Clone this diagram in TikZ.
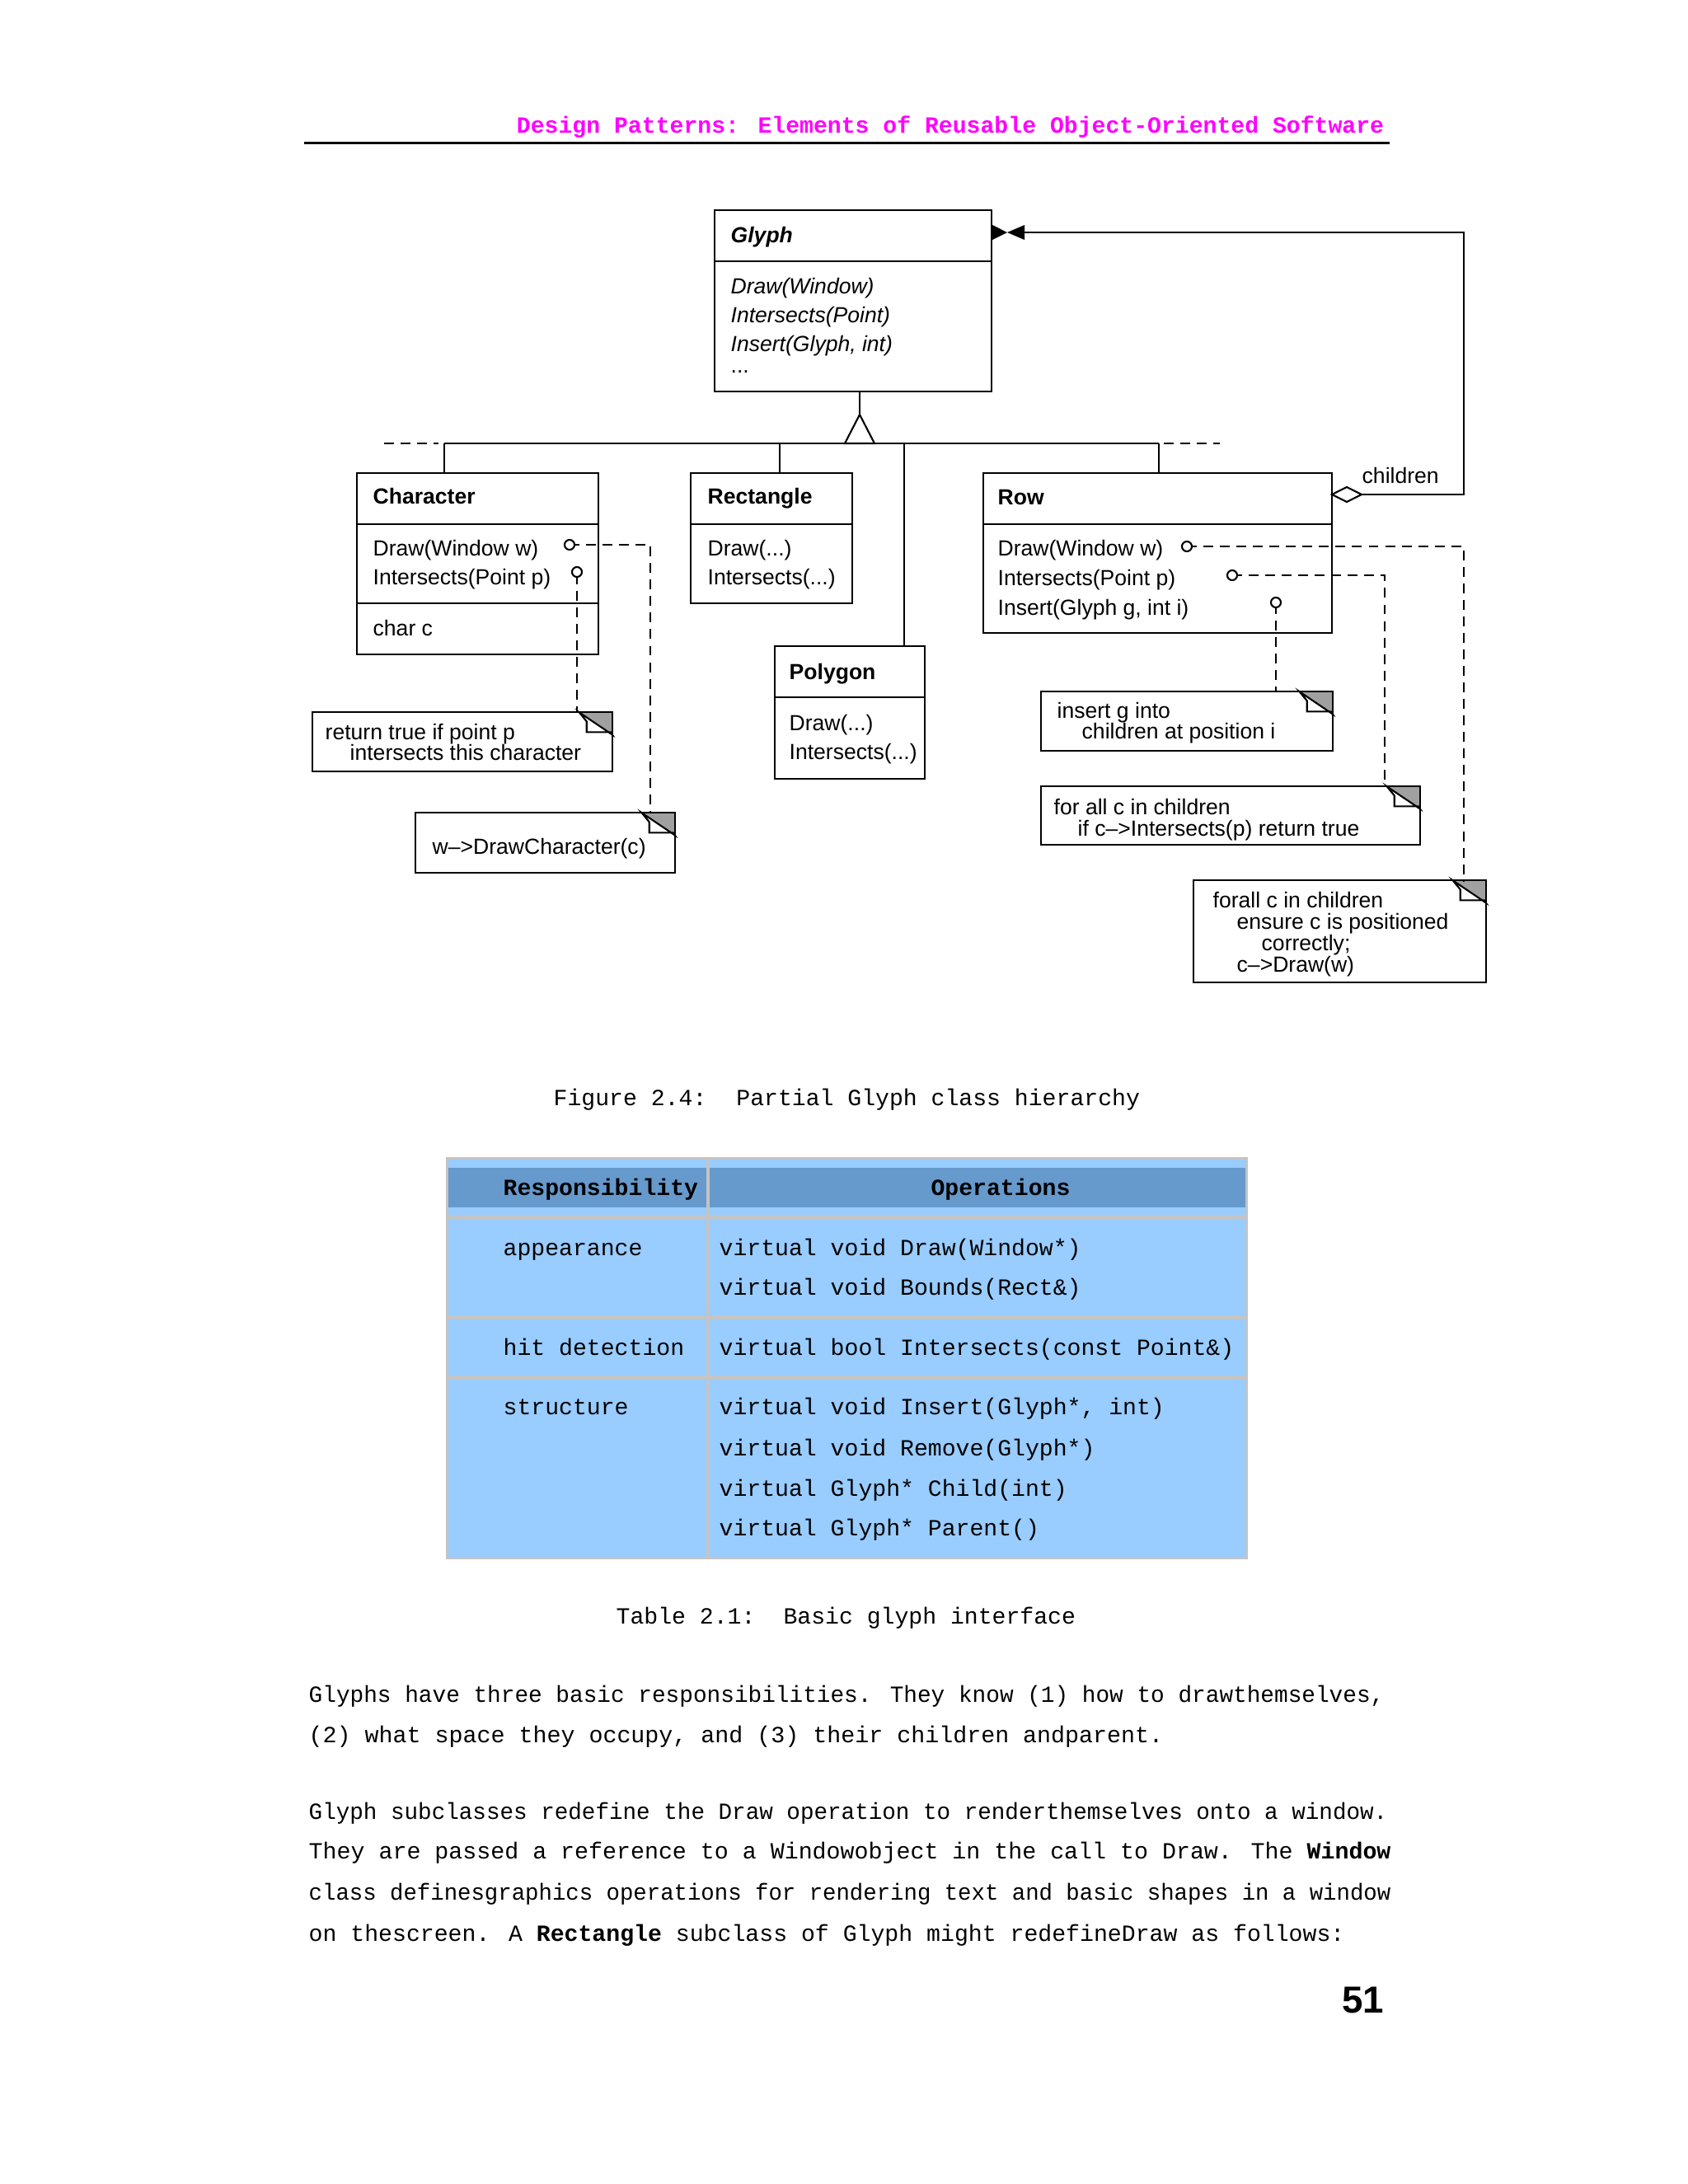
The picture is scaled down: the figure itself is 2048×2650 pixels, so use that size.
\documentclass[tikz,border=0pt]{standalone}
\usepackage{fontspec}
\usepackage{graphicx}
\setmainfont{Liberation Sans}
\newfontfamily\monofam{Liberation Mono}
\usetikzlibrary{calc,fit}
\definecolor{hdrmag}{HTML}{FF00FF}
\definecolor{tdark}{HTML}{6699CC}
\definecolor{tlight}{HTML}{99CCFF}
\definecolor{tborder}{HTML}{C4C4C4}
\definecolor{foldgray}{HTML}{A0A0A0}
\newcommand\dfont{\fontsize{7.55}{9}\selectfont}
\newcommand\mfont{\monofam\fontsize{8}{10}\selectfont}
\newcommand\umlnote[3]{%
  \node[inner sep=0, fit={#2 #3}] (#1) {};
  \fill[white] (#1.south west) rectangle (#1.north east);
  \fill[foldgray] ($(#1.north east)+(-40,0)$) -- (#1.north east) -- ($(#1.north east)+(0,27)$) -- cycle;
  \draw[thinline, fill=white] ($(#1.north east)+(-40,0)$) -- ($(#1.north east)+(-31,11)$) -- ($(#1.north east)+(-31,24)$) -- ($(#1.north east)+(-2,24)$) -- ($(#1.north east)+(0,27)$) -- cycle;
  \draw[thinline] (#1.south west) rectangle (#1.north east);
}
\tikzset{
  thinline/.style={line width=0.6pt},
  classbox/.style={draw, line width=0.6pt, inner sep=0, fill=white},
  dtext/.style={anchor=base west, inner sep=0, font=\dfont},
  mtext/.style={anchor=base west, inner sep=0, font=\mfont},
  lolli/.style={circle, draw, line width=0.6pt, fill=white, inner sep=0, minimum size=0.12cm},
  depline/.style={line width=0.6pt, dash pattern=on 3.4pt off 2.3pt},
}
\begin{document}
\begin{tikzpicture}[x=0.01cm,y=-0.01cm]
\useasboundingbox (0,0) rectangle (2048,2650);
\fill[white] (0,0) rectangle (2048,2650);

% ---------- header ----------
\node[anchor=base east, inner sep=0, font=\mfont\bfseries, text=hdrmag] (hdr) at (1680,161) {Design Patterns: Elements of Reusable Object-Oriented Software};
\coordinate (ruleL) at (369,173);
\coordinate (ruleR) at (1686,173);
\draw[line width=0.85pt] (ruleL) -- (ruleR);

% ---------- inheritance tree ----------
\coordinate (apex) at (1043,503);
\coordinate (bar) at (1043,538);
\coordinate (charJ) at (539,574);
\coordinate (rectJ) at (946,574);
\coordinate (polyJ) at (1097,784);
\coordinate (rowJ) at (1406,574);
\coordinate (dashL) at (466,538);
\coordinate (dashR) at (1480,538);

% ---------- Glyph ----------
\node[classbox, fit={(867,255) (1203,475)}] (glyph) {};
\draw[thinline] (glyph.west |- 0,317) -- (glyph.east |- 0,317);
\node[dtext] (gName) at (886,294) {\textbf{\textit{Glyph}}};
\node[dtext] (gm1) at (886,356) {\textit{Draw(Window)}};
\node[dtext] (gm2) at (886,391) {\textit{Intersects(Point)}};
\node[dtext] (gm3) at (886,426) {\textit{Insert(Glyph, int)}};
\node[dtext] (gm4) at (886,452) {...};

\draw[thinline] (apex |- glyph.south) -- (apex);
\draw[thinline, fill=white] (apex) -- ($(bar)+(-18,0)$) -- ($(bar)+(18,0)$) -- cycle;
\draw[thinline] (charJ |- bar) -- (rowJ |- bar);
\draw[depline] (dashL) -- ($(charJ |- bar)+(-7,0)$);
\draw[depline] ($(rowJ |- bar)+(6,0)$) -- (dashR);
\draw[thinline] (charJ |- bar) -- (charJ);
\draw[thinline] (rectJ |- bar) -- (rectJ);
\draw[thinline] (polyJ |- bar) -- (polyJ);
\draw[thinline] (rowJ |- bar) -- (rowJ);

% ---------- Character ----------
\node[classbox, fit={(433,574) (726,794)}] (char) {};
\draw[thinline] (char.west |- 0,636) -- (char.east |- 0,636);
\draw[thinline] (char.west |- 0,732) -- (char.east |- 0,732);
\node[dtext] (cName) at (452,611) {\textbf{Character}};
\node[dtext] (cm1) at (452,674) {Draw(Window w)};
\node[dtext] (cm2) at (452,709) {Intersects(Point p)};
\node[dtext] (ca1) at (452,771) {char c};

% ---------- Rectangle ----------
\node[classbox, fit={(838,574) (1034,732)}] (rect) {};
\draw[thinline] (rect.west |- 0,636) -- (rect.east |- 0,636);
\node[dtext] (rName) at (858,611) {\textbf{Rectangle}};
\node[dtext] (rm1) at (858,674) {Draw(...)};
\node[dtext] (rm2) at (858,709) {Intersects(...)};

% ---------- Polygon ----------
\node[classbox, fit={(940,784) (1122,945)}] (poly) {};
\draw[thinline] (poly.west |- 0,846) -- (poly.east |- 0,846);
\node[dtext] (pName) at (957,824) {\textbf{Polygon}};
\node[dtext] (pm1) at (957,886) {Draw(...)};
\node[dtext] (pm2) at (957,921) {Intersects(...)};

% ---------- Row ----------
\node[classbox, fit={(1193,574) (1616,768)}] (row) {};
\draw[thinline] (row.west |- 0,636) -- (row.east |- 0,636);
\node[dtext] (wName) at (1210,612) {\textbf{Row}};
\node[dtext] (wm1) at (1210,674) {Draw(Window w)};
\node[dtext] (wm2) at (1210,710) {Intersects(Point p)};
\node[dtext] (wm3) at (1210,746) {Insert(Glyph g, int i)};

% ---------- aggregation children ----------
\coordinate (diamL) at (1616,600);
\coordinate (diamR) at (1652,600);
\coordinate (aggC) at (1776,282);
\coordinate (bowR) at (1243,282);
\coordinate (bowM) at (1222,282);
\draw[thinline, fill=white] (diamL) -- (1634,591) -- (diamR) -- (1634,609) -- cycle;
\draw[thinline] (diamR) -| (aggC) -- (bowR);
\fill (glyph.east |- 0,273) -- (bowM) -- (glyph.east |- 0,291) -- cycle;
\fill (bowR |- 0,273) -- (bowM) -- (bowR |- 0,291) -- cycle;
\node[dtext] (childLbl) at (1652,586) {children};

% ---------- notes ----------
\umlnote{n1}{(380,865)}{(742,935)}
\node[dtext] (n1a) at (394,897) {return true if point p};
\node[dtext] (n1b) at (424,922) {intersects this character};

\umlnote{n2}{(505,987)}{(818,1058)}
\node[dtext] (n2a) at (524,1036) {w\textendash>DrawCharacter(c)};

\umlnote{n3}{(1264,840)}{(1616,910)}
\node[dtext] (n3a) at (1282,871) {insert g into};
\node[dtext] (n3b) at (1312,896) {children at position i};

\umlnote{n4}{(1264,955)}{(1722,1024)}
\node[dtext] (n4a) at (1278,988) {for all c in children};
\node[dtext] (n4b) at (1307,1014) {if c\textendash>Intersects(p) return true};

\umlnote{n5}{(1449,1069)}{(1802,1191)}
\node[dtext] (n5a) at (1471,1101) {forall c in children};
\node[dtext] (n5b) at (1500,1127) {ensure c is positioned};
\node[dtext] (n5c) at (1530,1153) {correctly;};
\node[dtext] (n5d) at (1500,1179) {c\textendash>Draw(w)};

% ---------- lollipops and dashed links ----------
\coordinate (n2top) at (789,987);
\coordinate (n4top) at (1680,955);
\coordinate (n5top) at (1776,1069);
\draw[depline] (691,661) -| (n2top);
\draw[depline] (700,697) -- (700,865);
\draw[depline] (1440,663) -| (n5top);
\draw[depline] (1495,698) -| (n4top);
\draw[depline] (1548,733) -- (1548,840);
\node[lolli] (cDrawL) at (691,661) {};
\node[lolli] (cIntL) at (700,694) {};
\node[lolli] (rDrawL) at (1440,663) {};
\node[lolli] (rIntL) at (1495,698) {};
\node[lolli] (rInsL) at (1548,731) {};

% ---------- figure caption ----------
\node[mtext] (figcap) at (671,1341) {Figure 2.4:\hspace{0.36cm}Partial Glyph class hierarchy};

% ---------- table ----------
\fill[tborder] (541,1404) rectangle (1514,1892);
\fill[tlight] (544,1407) rectangle (857,1474);
\fill[tlight] (861,1407) rectangle (1511,1474);
\fill[tdark] (544,1417) rectangle (857,1465);
\fill[tdark] (861,1417) rectangle (1511,1465);
\fill[tlight] (544,1479) rectangle (857,1596);
\fill[tlight] (861,1479) rectangle (1511,1596);
\fill[tlight] (544,1601) rectangle (857,1669);
\fill[tlight] (861,1601) rectangle (1511,1669);
\fill[tlight] (544,1674) rectangle (857,1889);
\fill[tlight] (861,1674) rectangle (1511,1889);
\node[mtext, font=\mfont\bfseries] (th1) at (610,1450) {Responsibility};
\node[anchor=base, inner sep=0, font=\mfont\bfseries] (th2) at (1214,1450) {Operations};
\node[mtext] (t11) at (610,1523) {appearance};
\node[mtext] (t12) at (872,1523) {virtual void Draw(Window*)};
\node[mtext] (t13) at (872,1571) {virtual void Bounds(Rect\&)};
\node[mtext] (t21) at (610,1644) {hit detection};
\node[mtext] (t22) at (872,1644) {virtual bool Intersects(const Point\&)};
\node[mtext] (t31) at (610,1716) {structure};
\node[mtext] (t32) at (872,1716) {virtual void Insert(Glyph*, int)};
\node[mtext] (t33) at (872,1766) {virtual void Remove(Glyph*)};
\node[mtext] (t34) at (872,1815) {virtual Glyph* Child(int)};
\node[mtext] (t35) at (872,1863) {virtual Glyph* Parent()};

% ---------- table caption ----------
\node[mtext] (tabcap) at (747,1970) {Table 2.1:\hspace{0.34cm}Basic glyph interface};

% ---------- body text ----------
\node[mtext] (p1) at (374,2065) {\resizebox{13.04cm}{\height}{Glyphs have three basic responsibilities. They know (1) how to drawthemselves,}};
\node[mtext] (p2) at (374,2114) {\resizebox{10.36cm}{\height}{(2) what space they occupy, and (3) their children andparent.}};
\node[mtext] (p3) at (374,2207) {\resizebox{13.08cm}{\height}{Glyph subclasses redefine the Draw operation to renderthemselves onto a window.}};
\node[mtext] (p4) at (374,2255) {\resizebox{13.12cm}{\height}{They are passed a reference to a Windowobject in the call to Draw. The \textbf{Window}}};
\node[mtext] (p5) at (374,2305) {\resizebox{13.12cm}{\height}{class definesgraphics operations for rendering text and basic shapes in a window}};
\node[mtext] (p6) at (374,2355) {\resizebox{12.56cm}{\height}{on thescreen. A \textbf{Rectangle} subclass of Glyph might redefineDraw as follows:}};

\node[anchor=base east, inner sep=0, font=\fontsize{13}{15}\selectfont\bfseries] (pgno) at (1680,2442) {51};
\end{tikzpicture}
\end{document}
